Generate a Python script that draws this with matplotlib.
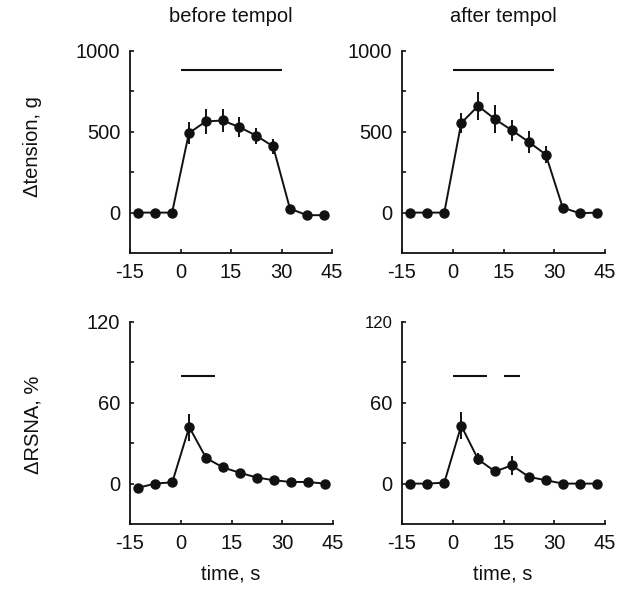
import matplotlib
matplotlib.use("Agg")
import matplotlib.pyplot as plt
import numpy as np

plt.rcParams['font.family'] = ['Liberation Sans', 'DejaVu Sans']

time_s = [-12.5, -7.5, -2.5, 2.5, 7.5, 12.5, 17.5, 22.5, 27.5, 32.5, 37.5, 42.5]

tension_before = [0, 0, 0, 492, 564, 570, 529, 476, 410, 25, -16, -16]
tension_before_err = [0, 0, 0, 70, 75, 72, 60, 50, 45, 0, 0, 0]
tension_after = [0, 0, 0, 554, 660, 578, 509, 437, 359, 31, -4, 0]
tension_after_err = [0, 0, 0, 60, 85, 85, 67, 68, 52, 0, 0, 0]

rsna_before = [-3, 0, 1, 42, 19, 12, 8, 4.5, 2.5, 1.2, 1.2, 0]
rsna_before_err = [0, 0, 0, 10, 4, 3, 0, 0, 0, 0, 0, 0]
rsna_after = [0, 0, 0.7, 43, 18, 9, 13.6, 5, 2.5, 0, 0, 0]
rsna_after_err = [0, 0, 0, 10, 4.5, 0, 7, 0, 0, 0, 0, 0]

# significance bars: (start, end, level)
bars_tension_before = [(0, 30, 880)]
bars_tension_after = [(0, 30, 880)]
bars_rsna_before = [(0, 10, 80)]
bars_rsna_after = [(0, 10, 80), (15, 20, 80)]

titles = ["before tempol", "after tempol"]
xticks = [-15, 0, 15, 30, 45]
tension_ticks = [0, 500, 1000]
tension_minor = [250, 750]
rsna_ticks = [0, 60, 120]
rsna_minor = [30, 90]

W, H = 617, 589
fig = plt.figure(figsize=(W / 100, H / 100), dpi=100)

def make_ax(l, t, r, b):
    return fig.add_axes([l / W, 1 - b / H, (r - l) / W, (b - t) / H])

ax_tl = make_ax(130, 51, 332, 253)
ax_tr = make_ax(402, 51, 605, 253)
ax_bl = make_ax(130, 322, 333, 524)
ax_br = make_ax(402, 322, 605, 524)

FS = 14.5
col = '#111111'

def style(ax, yticks, yminor, ylim):
    ax.set_xlim(-15, 45)
    ax.set_ylim(*ylim)
    for s in ['top', 'right']:
        ax.spines[s].set_visible(False)
    for s in ['left', 'bottom']:
        ax.spines[s].set_linewidth(1.3)
        ax.spines[s].set_color(col)
    ax.set_xticks(xticks)
    ax.set_xticklabels([str(v) for v in xticks])
    ax.set_yticks(yticks)
    ax.set_yticks(yminor, minor=True)
    ax.tick_params(which='both', direction='in', length=3, width=1.2, colors=col,
                   labelsize=FS, pad=7)

def plot_series(ax, y, err, bars):
    ax.errorbar(time_s, y, yerr=err, fmt='-o', color=col, lw=1.4, ms=6.5,
                elinewidth=1.4, capsize=0, clip_on=False, zorder=3)
    for (a, b, lvl) in bars:
        ax.plot([a, b], [lvl, lvl], color=col, lw=1.5, solid_capstyle='butt')

style(ax_tl, tension_ticks, tension_minor, (-250, 1000))
style(ax_tr, tension_ticks, tension_minor, (-250, 1000))
style(ax_bl, rsna_ticks, rsna_minor, (-30, 120))
style(ax_br, rsna_ticks, rsna_minor, (-30, 120))

plot_series(ax_tl, tension_before, tension_before_err, bars_tension_before)
plot_series(ax_tr, tension_after, tension_after_err, bars_tension_after)
plot_series(ax_bl, rsna_before, rsna_before_err, bars_rsna_before)
plot_series(ax_br, rsna_after, rsna_after_err, bars_rsna_after)

# smaller top label on bottom-right panel
ax_br.get_yticklabels()[-1].set_fontsize(12)

fig.text(231 / W, 1 - 17 / H, titles[0], ha='center', va='center', fontsize=FS, color=col)
fig.text(503 / W, 1 - 17 / H, titles[1], ha='center', va='center', fontsize=FS, color=col)
fig.text(33 / W, 1 - 147 / H, "\u0394tension, g", rotation=90, ha='center', va='center',
         fontsize=FS, color=col)
fig.text(33 / W, 1 - 425 / H, "\u0394RSNA, %", rotation=90, ha='center', va='center',
         fontsize=FS, color=col)
fig.text(231 / W, 1 - 574 / H, "time, s", ha='center', va='center', fontsize=FS, color=col)
fig.text(503 / W, 1 - 574 / H, "time, s", ha='center', va='center', fontsize=FS, color=col)

fig.savefig("out.png", dpi=100, facecolor='white')
